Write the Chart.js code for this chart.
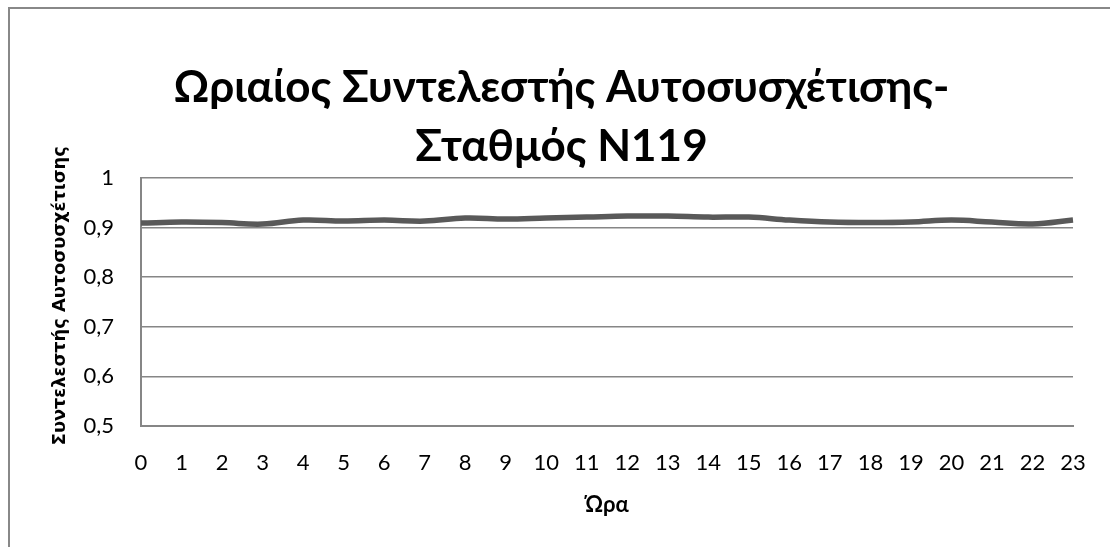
<!DOCTYPE html>
<html lang="el">
<head>
    <meta charset="UTF-8">
    <title>Ωριαίος Συντελεστής Αυτοσυσχέτισης</title>
    <script src="https://cdn.jsdelivr.net/npm/chart.js"></script>
    <style>
        body {
            margin: 0;
            background: #fff;
            overflow: hidden;
        }
        .frame {
            position: absolute;
            left: 8px;
            top: 7px;
            width: 1200px;
            height: 700px;
            border: 2px solid #888;
        }
        canvas {
            position: absolute;
            left: 0;
            top: 0;
        }
    </style>
</head>
<body>
    <div class="frame"></div>
    <canvas id="acfChart" width="1110" height="547"></canvas>

    <script>
    // Δεδομένα
    const hours = ['0','1','2','3','4','5','6','7','8','9','10','11','12','13','14','15','16','17','18','19','20','21','22','23'];
    const acfValues = [0.909, 0.911, 0.910, 0.907, 0.915, 0.913, 0.915, 0.913, 0.919, 0.917, 0.919, 0.921,
                       0.923, 0.923, 0.921, 0.921, 0.915, 0.911, 0.910, 0.911, 0.915, 0.911, 0.907, 0.915];
    const titleLines = ['Ωριαίος Συντελεστής Αυτοσυσχέτισης-', 'Σταθμός N119'];
    const yTitle = '  Συντελεστής Αυτοσυσχέτισης';
    const xTitle = 'Ώρα';

    const baseFont = 'Lato, "Noto Sans", sans-serif';
    const gridColor = '#868686';

    const ctx = document.getElementById('acfChart').getContext('2d');
    new Chart(ctx, {
        type: 'line',
        data: {
            labels: hours,
            datasets: [{
                data: acfValues,
                borderColor: '#595959',
                borderWidth: 5.5,
                tension: 0.4,
                pointRadius: 0,
                fill: false
            }]
        },
        options: {
            responsive: false,
            animation: false,
            layout: {
                padding: { left: 50, right: 37, top: 0, bottom: 26 }
            },
            plugins: {
                legend: { display: false },
                tooltip: { enabled: false },
                title: {
                    display: true,
                    text: titleLines,
                    color: '#000',
                    font: { family: baseFont, size: 44, weight: 'bold', lineHeight: 1.34 },
                    padding: { top: 58, bottom: 2 }
                }
            },
            scales: {
                x: {
                    offset: false,
                    grid: { display: false },
                    border: { display: true, color: gridColor, width: 2 },
                    ticks: {
                        color: '#000',
                        font: { family: baseFont, size: 22 },
                        padding: 16,
                        maxRotation: 0,
                        autoSkip: false
                    },
                    title: {
                        display: true,
                        text: xTitle,
                        color: '#000',
                        font: { family: baseFont, size: 22, weight: 'bold' },
                        padding: { top: 0, bottom: 3 }
                    },
                    afterFit: function(scale) { scale.height = 95; }
                },
                y: {
                    min: 0.5,
                    max: 1,
                    grid: { color: gridColor, lineWidth: 1.5, drawTicks: false },
                    border: { display: true, color: gridColor, width: 2 },
                    ticks: {
                        stepSize: 0.1,
                        color: '#000',
                        font: { family: baseFont, size: 22 },
                        padding: 27,
                        callback: function(v) {
                            return Number(v.toFixed(1)).toString().replace('.', ',');
                        }
                    },
                    title: {
                        display: true,
                        text: yTitle,
                        color: '#000',
                        font: { family: '"DejaVu Sans", sans-serif', size: 17.8, weight: 'bold' },
                        padding: { top: 0, bottom: 0 }
                    },
                    afterFit: function(scale) { scale.width = 91; }
                }
            }
        }
    });
    </script>
</body>
</html>
